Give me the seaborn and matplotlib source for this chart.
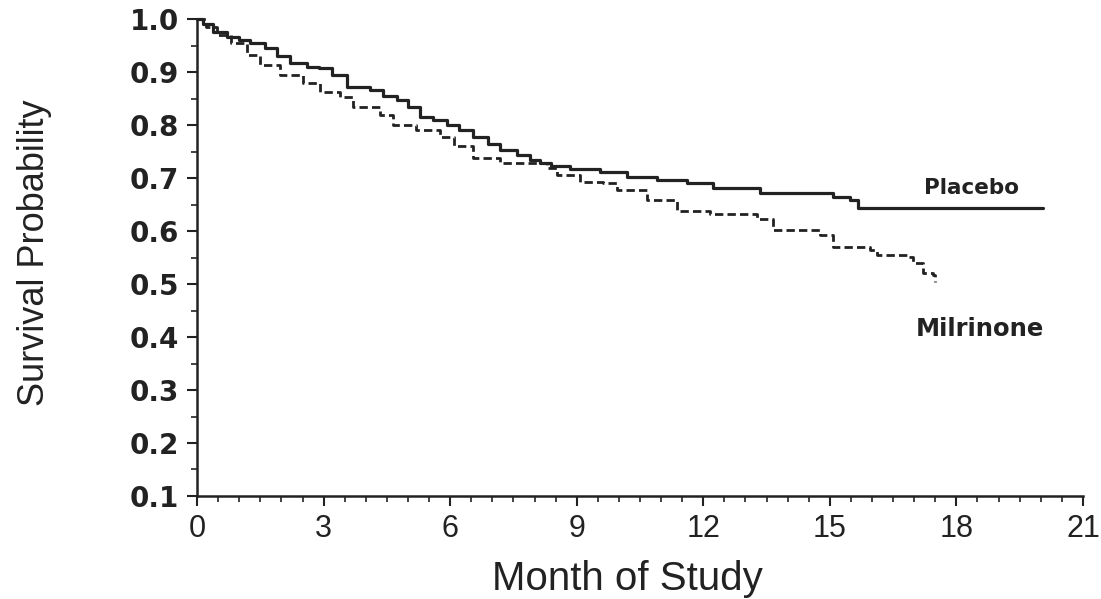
"""  Kaplan-Meier style survival curves: Milrinone vs Placebo  """

import matplotlib.pyplot as plt
from matplotlib.ticker import MultipleLocator
import pandas as pd
import seaborn as sns

# ~~~~~~~~~~   Data   ~~~~~~~~~~~~~~~~~~~~~~~~~~~~~~~~~~~~~~~~~~~~~~~~~~~~~~~~~~~~ #
placebo_month = [0, 0.15, 0.38, 0.7, 1.0, 1.26, 1.6, 1.9, 2.2, 2.6, 2.9, 3.2, 3.55,
                 4.1, 4.4, 4.74, 5.0, 5.28, 5.6, 5.92, 6.2, 6.54, 6.9, 7.18, 7.58,
                 7.9, 8.13, 8.4, 8.84, 9.55, 10.19, 10.9, 11.61, 12.23, 13.34,
                 15.07, 15.47, 15.66, 20.05]
placebo_surv = [1.0, 0.99, 0.975, 0.967, 0.96, 0.955, 0.945, 0.93, 0.917, 0.91,
                0.907, 0.894, 0.872, 0.866, 0.855, 0.847, 0.835, 0.815, 0.81, 0.80,
                0.79, 0.777, 0.765, 0.753, 0.743, 0.735, 0.728, 0.722, 0.717, 0.711,
                0.702, 0.696, 0.691, 0.681, 0.672, 0.664, 0.658, 0.643, 0.643]

milrinone_month = [0, 0.2, 0.47, 0.8, 1.18, 1.49, 1.97, 2.51, 2.91, 3.39, 3.7, 4.34,
                   4.64, 5.2, 5.76, 6.1, 6.54, 7.18, 8.29, 8.53, 9.07, 9.62, 9.95,
                   10.66, 11.37, 12.16, 13.27, 13.65, 14.76, 15.07, 15.95, 16.11,
                   16.82, 16.97, 17.2, 17.45, 17.5]
milrinone_surv = [1.0, 0.985, 0.97, 0.955, 0.932, 0.913, 0.894, 0.879, 0.862, 0.853,
                  0.834, 0.819, 0.80, 0.79, 0.777, 0.76, 0.738, 0.728, 0.719, 0.706,
                  0.692, 0.69, 0.677, 0.658, 0.638, 0.632, 0.623, 0.602, 0.592, 0.57,
                  0.564, 0.555, 0.551, 0.54, 0.521, 0.517, 0.504]

x_ticks = [0, 3, 6, 9, 12, 15, 18, 21]
y_ticks = [0.1, 0.2, 0.3, 0.4, 0.5, 0.6, 0.7, 0.8, 0.9, 1.0]

# ~~~~~~~~~~   Plot   ~~~~~~~~~~~~~~~~~~~~~~~~~~~~~~~~~~~~~~~~~~~~~~~~~~~~~~~~~~~~~~~ #
sns.set_style('ticks')
plt.rcParams['font.family'] = ['Liberation Sans', 'DejaVu Sans']

ink = '#222222'
fig = plt.figure(figsize=(11.01, 5.99), dpi=100)
ax = fig.add_axes([0.179, 0.172, 0.8046, 0.796])

placebo = pd.DataFrame({'month': placebo_month, 'surv': placebo_surv})
milrinone = pd.DataFrame({'month': milrinone_month, 'surv': milrinone_surv})

sns.lineplot(data=placebo, x='month', y='surv', ax=ax, color=ink, linewidth=2.3,
             drawstyle='steps-post', estimator=None, clip_on=False)
sns.lineplot(data=milrinone, x='month', y='surv', ax=ax, color=ink, linewidth=2.0,
             drawstyle='steps-post', estimator=None, clip_on=False,
             linestyle=(0, (3, 1.5)))

ax.set_xlim(0, 21)
ax.set_ylim(0.1, 1.0)
ax.set_xticks(x_ticks)
ax.set_yticks(y_ticks)
ax.xaxis.set_minor_locator(MultipleLocator(0.5))
ax.yaxis.set_minor_locator(MultipleLocator(0.05))
ax.set_xticklabels([str(t) for t in x_ticks], fontsize=22)
ax.set_yticklabels([f'{t:.1f}' for t in y_ticks], fontsize=20, fontweight='bold',
                   family='DejaVu Sans')

ax.tick_params(axis='both', which='major', length=7, width=1.5, color=ink,
               labelcolor=ink)
ax.tick_params(axis='both', which='minor', length=4, width=1.2, color=ink)
ax.tick_params(axis='x', pad=6)
ax.tick_params(axis='y', pad=6)

for side in ['top', 'right']:
    ax.spines[side].set_visible(False)
for side in ['left', 'bottom']:
    ax.spines[side].set_linewidth(1.8)
    ax.spines[side].set_color(ink)

# axis titles, placed where the reference has them
ax.set_xlabel('Month of Study', fontsize=29, color=ink, va='center')
ax.xaxis.set_label_coords(0.486, -0.174)
ax.set_ylabel('Survival Probability', fontsize=26, color=ink, va='center')
ax.yaxis.set_label_coords(-0.183, 0.511)

# curve labels
ax.text(18.37, 0.681, 'Placebo', fontsize=15.5, fontweight='bold', ha='center',
        va='center', color=ink, family='DejaVu Sans')
ax.text(18.56, 0.415, 'Milrinone', fontsize=17.5, fontweight='bold', ha='center',
        va='center', color=ink, family='DejaVu Sans')

fig.savefig('out.png', dpi=100, facecolor='white')
